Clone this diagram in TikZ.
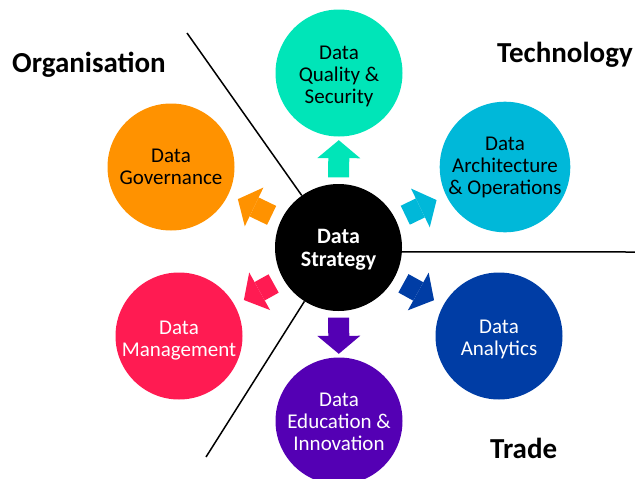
\documentclass[tikz,border=0pt]{standalone}
\usepackage{fontspec}
\setmainfont{Carlito}
\usetikzlibrary{arrows.meta}

\definecolor{qualcol}{RGB}{0,229,184}
\definecolor{archcol}{RGB}{0,184,217}
\definecolor{analcol}{RGB}{0,61,165}
\definecolor{educcol}{RGB}{84,0,180}
\definecolor{mgmtcol}{RGB}{255,27,82}
\definecolor{govcol}{RGB}{255,146,0}

% circle text, lowered a little inside its circle
\newcommand\ctext[2][3pt]{\raisebox{-#1}[\height][\depth]{\begin{tabular}{@{}c@{}}#2\end{tabular}}}

\begin{document}
\begin{tikzpicture}[x=1pt, y=-1pt,
	every node/.style={circle, minimum size=127pt, inner sep=0pt, font=\fontsize{21}{22}\selectfont},
	heading/.style={rectangle, minimum size=0pt, anchor=base west, font=\fontsize{29}{31}\selectfont\bfseries},
	flow/.style={line width=21pt, -{Triangle[width=43pt, length=18pt, line width=0pt]}},
	divider/.style={draw=black, line width=1.5pt}]
				\useasboundingbox (0,0) rectangle (635,479);
				
				\node[fill=black, text=white, font=\fontsize{22}{23}\selectfont\bfseries] (cen) at (338.5,247.5){\ctext[2.5pt]{Data\\Strategy}};
				\node[fill=qualcol] (qual) at (339,73){\ctext[4.5pt]{Data\\Quality \&\\Security}};
				\node[fill=archcol] (arch) at (505,167){\ctext[1.5pt]{Data\\Architecture\\\& Operations}};
				\node[fill=analcol, text=white] (anal) at (499,336){\ctext[4.5pt]{Data\\Analytics}};
				\node[fill=educcol, text=white] (educ) at (339,421){\ctext[3.5pt]{Data\\Education \&\\Innovation}};
				\node[fill=mgmtcol, text=white] (mgmt) at (179,336){\ctext[5pt]{Data\\Management}};
				\node[fill=govcol] (gov) at (171,167){\ctext[2.5pt]{Data\\Governance}};
				
				\node[heading] (org) at (12,72) {Organisation};
				\node[heading] (tech) at (497,62) {Technology};
				\node[heading] (trade) at (490,458) {Trade};
				
				\coordinate (o1) at (187,33);
				\coordinate (o2) at (635,252);
				\coordinate (o3) at (206,457);
				\path[divider] (cen) -- (o1);
				\path[divider] (cen.-4) -- (o2);
				\path[divider] (cen) -- (o3);
				
				\path (cen) edge[flow, draw=qualcol, shorten <=6.5pt, shorten >=3.5pt] (qual);
				\path (cen) edge[flow, draw=educcol, shorten <=6.5pt, shorten >=3.5pt] (educ);
				\path (cen) edge[flow, draw=archcol, shorten <=10.5pt, shorten >=10.5pt] (arch);
				\path (cen) edge[flow, draw=analcol, shorten <=10.5pt, shorten >=10.5pt] (anal);
				\path (cen) edge[flow, draw=mgmtcol, shorten <=10.5pt, shorten >=10.5pt] (mgmt);
				\path (cen) edge[flow, draw=govcol, shorten <=10.5pt, shorten >=10.5pt] (gov);
				\end{tikzpicture}
\end{document}
